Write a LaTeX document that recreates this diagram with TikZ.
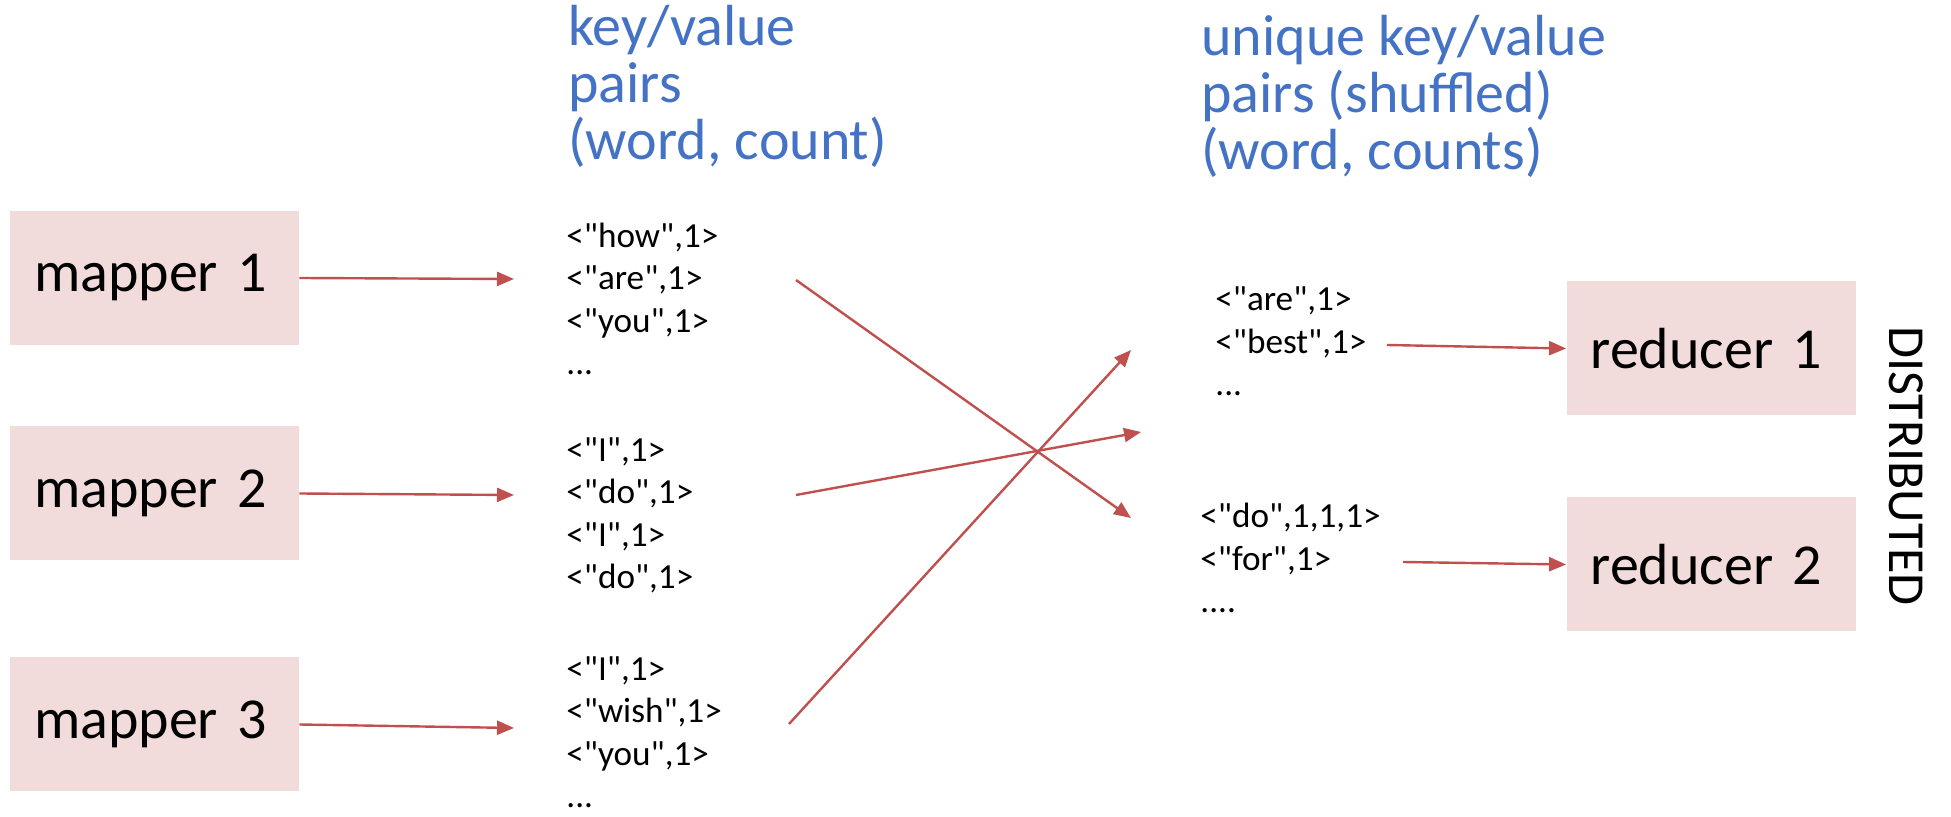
\documentclass[tikz,border=0pt]{standalone}
\usepackage{fontspec}
\setmainfont{Carlito}[Ligatures=TeXOff]
\usetikzlibrary{arrows.meta,positioning}

\definecolor{boxpink}{HTML}{F2DCDB}
\definecolor{arrowred}{HTML}{C0504D}
\definecolor{headblue}{HTML}{4472C4}

\tikzset{
  worker/.style={fill=boxpink, minimum width=144.5pt, minimum height=67pt,
    text width=120.5pt, inner xsep=12pt, align=left,
    font=\fontsize{29}{35}\selectfont},
  pairs/.style={anchor=base west, align=left, inner sep=0pt,
    font=\fontsize{17.6}{21.25}\selectfont},
  heading/.style={anchor=base west, align=left, inner sep=0pt, text=headblue,
    font=\fontsize{29}{28.5}\selectfont},
  flow/.style={draw=arrowred, line width=1.2pt,
    -{Triangle[length=8.5pt,width=7pt]}},
}

\begin{document}
\begin{tikzpicture}[x=0.5pt, y=-0.5pt]
    \useasboundingbox (0,0) rectangle (1951,817);

    % mappers and reducers
    \node[worker] (m1) at (154.5,278)   {mapper 1};
    \node[worker] (m2) at (154.5,493.5) {mapper 2};
    \node[worker] (m3) at (154.5,724.5) {mapper 3};
    \node[worker] (r1) at (1711,348.5)  {reducer 1};
    \node[worker] (r2) at (1711,564.5)  {reducer 2};

    % headings (placed at the baseline of their last line)
    \node[heading] (kv)  at (568,160)  {key/value\\pairs\\(word, count)};
    \node[heading] (ukv) at (1201,170) {unique key/value\\pairs (shuffled)\\(word, counts)};

    % emitted pairs
    \node[pairs] (l1) at (566,375) {<"how",1>\\<"are",1>\\<"you",1>\\...};
    \node[pairs] (l2) at (566,589) {<"I",1>\\<"do",1>\\<"I",1>\\<"do",1>};
    \node[pairs] (l3) at (566,808) {<"I",1>\\<"wish",1>\\<"you",1>\\...};

    % shuffled pairs
    \node[pairs] (s1) at (1215,396) {<"are",1>\\<"best",1>\\...};
    \node[pairs] (s2) at (1200,613) {<"do",1,1,1>\\<"for",1>\\....};

    \node[rotate=-90, font=\fontsize{26}{30}\selectfont] (dist) at (1906,466) {DISTRIBUTED};

    % arrow ends
    \coordinate (e1) at (514,279);
    \coordinate (e2) at (514,495);
    \coordinate (e3) at (514,728);
    \coordinate (ca) at (796,280);
    \coordinate (cb) at (796,495);
    \coordinate (cc) at (789,724);
    \coordinate (ta) at (1131,518);
    \coordinate (tb) at (1141,432);
    \coordinate (tc) at (1131,350);
    \coordinate (f1) at (1387,345);
    \coordinate (f2) at (1403,562);

    % connect
    \draw[flow] (m1.east) -- (e1);
    \draw[flow] (m2.east) -- (e2);
    \draw[flow] (m3.east) -- (e3);
    \draw[flow] (ca) -- (ta);
    \draw[flow] (cb) -- (tb);
    \draw[flow] (cc) -- (tc);
    \draw[flow] (f1) -- (r1.west);
    \draw[flow] (f2) -- (r2.west);
\end{tikzpicture}
\end{document}
